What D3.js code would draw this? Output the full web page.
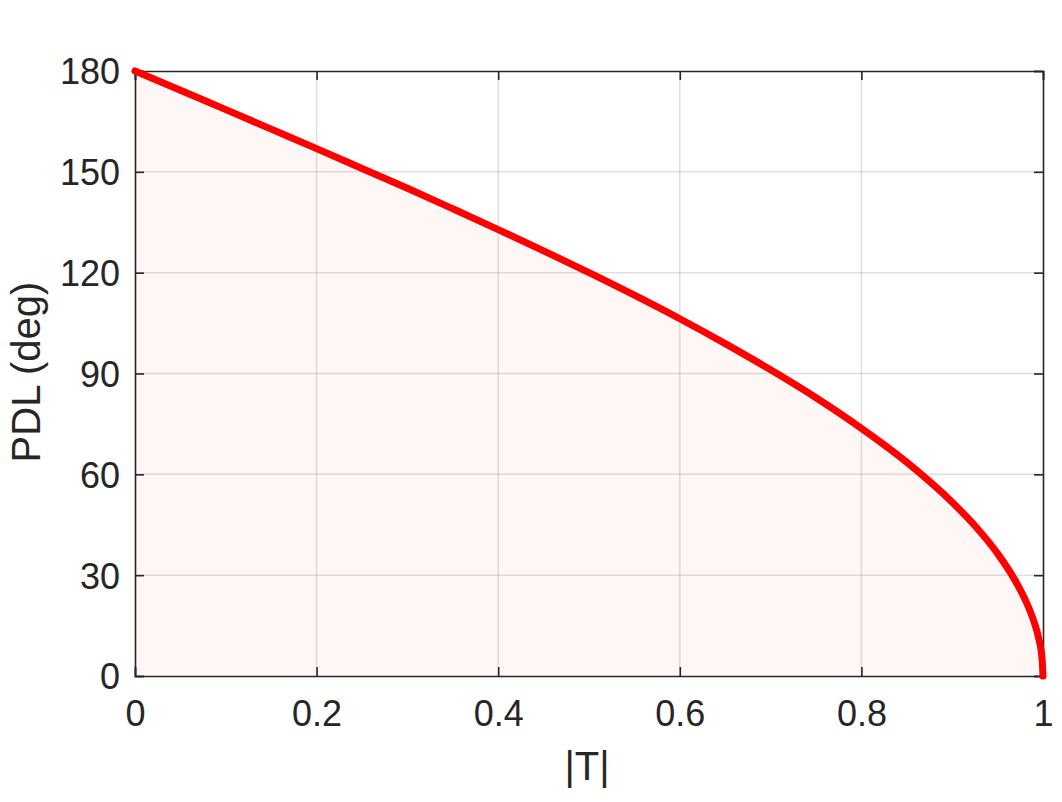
<!DOCTYPE html>
<html><head><meta charset="utf-8">
<script src="https://cdn.jsdelivr.net/npm/d3@7"></script>
<style>body{margin:0;background:#fff}svg{display:block}text{font-family:Arial,"Liberation Sans",sans-serif;fill:#262626}</style>
</head><body>
<script>
const tValues = [0,0.05,0.1,0.15,0.2,0.25,0.3,0.35,0.4,0.45,0.5,0.55,0.6,0.65,0.7,0.75,0.8,0.85,0.9,0.925,0.95,0.97,0.98,0.99,0.995,0.999,1];
const pdlValues = [180,174.3,168.5,162.7,156.9,151.0,145.1,139.0,132.8,126.5,120.0,113.3,106.3,98.9,91.1,82.8,73.7,63.6,51.7,44.7,36.4,28.1,22.9,16.2,11.5,5.1,0];
const xTicks = [0,0.2,0.4,0.6,0.8,1];
const yTicks = [0,30,60,90,120,150,180];
const xLabel = "|T|";
const yLabel = "PDL (deg)";

const W=1062,H=802;
const L=135,R=1043,T=71,B=676;
const svg=d3.select("body").append("svg").attr("width",W).attr("height",H);
const x=d3.scaleLinear().domain([0,1]).range([L,R]);
const y=d3.scaleLinear().domain([0,180]).range([B,T]);
const data=tValues.map((t,i)=>({t,v:pdlValues[i]}));

svg.append("path").datum(data)
 .attr("d",d3.area().x(d=>x(d.t)).y0(y(0)).y1(d=>y(d.v)).curve(d3.curveMonotoneX))
 .attr("fill","#fff6f6");

// grid
svg.append("g").selectAll("line").data(xTicks.slice(1,-1)).join("line")
 .attr("x1",d=>x(d)).attr("x2",d=>x(d)).attr("y1",T).attr("y2",B)
 .attr("stroke","#262626").attr("stroke-opacity",0.15).attr("stroke-width",1.5);
svg.append("g").selectAll("line").data(yTicks.slice(1,-1)).join("line")
 .attr("y1",d=>y(d)).attr("y2",d=>y(d)).attr("x1",L).attr("x2",R)
 .attr("stroke","#262626").attr("stroke-opacity",0.15).attr("stroke-width",1.5);

// axes with inward ticks
const tl=9;
const gb=svg.append("g").attr("transform",`translate(0,${B})`).call(d3.axisBottom(x).tickValues(xTicks).tickSize(-tl).tickPadding(24).tickFormat(d3.format("")));
const gt=svg.append("g").attr("transform",`translate(0,${T})`).call(d3.axisTop(x).tickValues(xTicks).tickSize(-tl).tickFormat(""));
const gl=svg.append("g").attr("transform",`translate(${L},0)`).call(d3.axisLeft(y).tickValues(yTicks).tickSize(-tl).tickPadding(15));
const gr=svg.append("g").attr("transform",`translate(${R},0)`).call(d3.axisRight(y).tickValues(yTicks).tickSize(-tl).tickFormat(""));
[gb,gt,gl,gr].forEach(g=>{
  g.select(".domain").attr("stroke","#262626").attr("stroke-width",1.6);
  g.selectAll(".tick line").attr("stroke","#262626").attr("stroke-width",1.6);
  g.selectAll("text").attr("font-size",36).attr("fill","#262626").attr("font-family","Arial, 'Liberation Sans', sans-serif");
});
gb.selectAll(".tick text").attr("dy","0.71em");
gl.selectAll(".tick text").attr("dy","0.36em");

svg.append("path").datum(data)
 .attr("d",d3.line().x(d=>x(d.t)).y(d=>y(d.v)).curve(d3.curveMonotoneX))
 .attr("fill","none").attr("stroke","#ff0000").attr("stroke-width",7).attr("stroke-linecap","round").attr("stroke-linejoin","round");

svg.append("text").attr("x",587).attr("y",780).attr("text-anchor","middle").attr("font-size",40).text(xLabel);
svg.append("text").attr("transform",`translate(40,372) rotate(-90)`).attr("text-anchor","middle").attr("font-size",40).text(yLabel);
</script>
</body></html>
